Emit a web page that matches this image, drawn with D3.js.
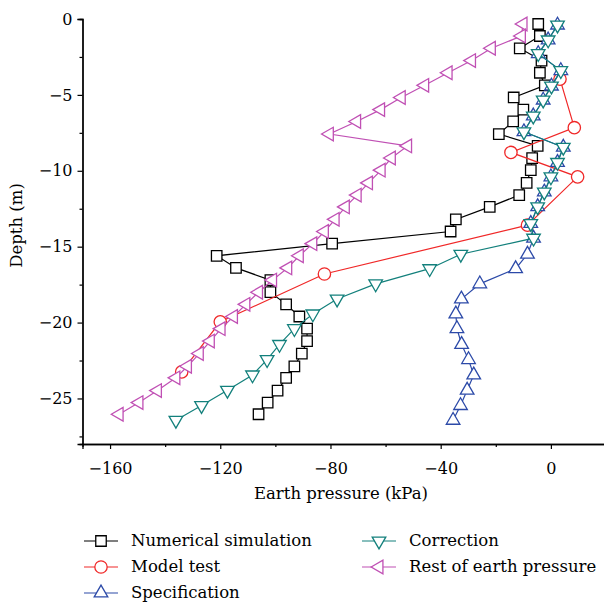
<!DOCTYPE html>
<html>
<head>
<meta charset="utf-8" />
<title>Earth pressure vs depth</title>
<script src="https://d3js.org/d3.v7.min.js"></script>
<style type="text/css">
body { margin: 0; background: #fff; }
</style>
</head>
<body>
<div id="svg"></div>
<script type="text/javascript">
var width = 604,
    height = 607;

// depths (m) used by numerical simulation and rest earth pressure
var depthA = [-0.33, -1.12, -1.93, -2.74, -3.54, -4.37, -5.17, -5.97, -6.75, -7.58, -8.36, -9.16, -9.96,
              -10.8, -11.6, -12.38, -13.2, -14.0, -14.8, -15.6, -16.4, -17.2, -18.0, -18.8, -19.6,
              -20.4, -21.22, -22.04, -22.88, -23.64, -24.48, -25.27, -26.04];
var simValues = [-4.6, -4.0, -11.3, -3.4, -4.0, -2.2, -13.5, -10.0, -13.7, -18.9, -4.8, -6.8, -7.3,
                 -8.8, -11.5, -22.2, -34.5, -36.4, -79.4, -121.3, -114.3, -101.8, -101.8, -96.1, -91.3,
                 -88.5, -88.5, -90.4, -93.1, -96.1, -99.2, -102.8, -106.1];
var restValues = [-10.1, -10.7, -21.6, -28.8, -37.3, -45.8, -54.3, -61.8, -70.5, -80.4, -52.0, -57.9, -61.6,
                  -66.2, -70.3, -74.6, -78.3, -82.2, -86.4, -91.3, -95.5, -101.0, -106.1, -110.7, -115.2,
                  -119.7, -123.6, -127.6, -131.9, -136.1, -142.8, -149.5, -156.7];

// depths (m) used by correction and specification
var depthB = [-0.4, -1.38, -2.28, -3.4, -4.42, -5.34, -6.39, -7.43, -8.45, -9.45, -10.4, -11.4, -12.37,
              -13.47, -14.44, -15.5, -16.45, -17.45, -18.45, -19.43, -20.4, -21.44, -22.44, -23.45,
              -24.46, -25.47, -26.44];
var corrValues = [2.4, -1.0, -4.6, 3.6, 0.2, -2.8, -6.4, -9.8, 4.5, 2.4, 0.0, -2.4, -4.8,
                  -7.3, -6.3, -32.7, -44.0, -63.6, -77.6, -86.4, -93.1, -98.5, -103.0, -108.3,
                  -117.4, -126.8, -136.1];
var specValues = [2.4, -1.0, -4.6, 3.6, 0.2, -2.8, -6.4, -9.8, 4.5, 2.4, 0.0, -2.4, -4.8,
                  -7.3, -6.3, -8.5, -12.8, -25.8, -32.5, -34.5, -34.1, -32.4, -29.9, -28.0,
                  -30.4, -32.8, -35.5];

// model test
var modelDepth = [-3.96, -7.16, -8.79, -10.4, -13.58, -16.8, -19.95, -23.25];
var modelValues = [3.3, 8.5, -14.5, 9.7, -8.5, -82.2, -120.0, -134.0];

var xTicks = [-160, -120, -80, -40, 0];
var xMinor = [-140, -100, -60, -20];
var yTicks = [0, -5, -10, -15, -20, -25];
var yMinor = [-2.5, -7.5, -12.5, -17.5, -22.5, -27.5];

var seriesNames = ["Numerical simulation", "Model test", "Specification", "Correction", "Rest of earth pressure"];

var font = "DejaVu Serif";

var svg = d3.select("#svg")
    .append("svg")
    .attr("width", width)
    .attr("height", height);

var xScale = d3.scaleLinear().domain([-170, 20]).range([82.5, 606]);
var yScale = d3.scaleLinear().domain([-28, 0]).range([444, 19]);

var fmt = d => d < 0 ? "\u2212" + Math.abs(d) : d;
var xAxis = d3.axisBottom(xScale).tickValues(xTicks).tickSize(5).tickPadding(14).tickFormat(fmt);
var xAxisMinor = d3.axisBottom(xScale).tickValues(xMinor).tickSize(3).tickFormat("");
var yAxis = d3.axisLeft(yScale).tickValues(yTicks).tickSize(5).tickPadding(5).tickFormat(fmt);
var yAxisMinor = d3.axisLeft(yScale).tickValues(yMinor).tickSize(3).tickFormat("");

var gX = svg.append("g").attr("transform", "translate(0," + yScale(-28) + ")").call(xAxis);
svg.append("g").attr("transform", "translate(0," + yScale(-28) + ")").call(xAxisMinor);
var gY = svg.append("g").attr("transform", "translate(" + xScale(-170) + ",0)").call(yAxis);
svg.append("g").attr("transform", "translate(" + xScale(-170) + ",0)").call(yAxisMinor);

svg.selectAll("g").attr("font-family", null).attr("font-size", null);
svg.selectAll(".domain").attr("stroke", "#000").attr("stroke-width", 1.3);
svg.selectAll(".tick line").attr("stroke", "#000").attr("stroke-width", 1.2);
svg.selectAll(".tick text").attr("font-size", 16).attr("fill", "#000")
    .attr("font-family", font);

svg.append("text")
    .attr("x", 341).attr("y", 499)
    .attr("text-anchor", "middle")
    .attr("font-family", font)
    .attr("font-size", 16.5)
    .text("Earth pressure (kPa)");

svg.append("text")
    .attr("transform", "translate(22," + yScale(-13.6) + ") rotate(-90)")
    .attr("text-anchor", "middle")
    .attr("font-family", font)
    .attr("font-size", 16.5)
    .text("Depth (m)");

var series = [
  { name: seriesNames[0], x: simValues, y: depthA, color: "#000000", shape: d3.symbolSquare, size: 110, rot: 0 },
  { name: seriesNames[1], x: modelValues, y: modelDepth, color: "#f02828", shape: d3.symbolCircle, size: 120, rot: 0 },
  { name: seriesNames[2], x: specValues, y: depthB, color: "#2c4aa8", shape: d3.symbolTriangle, size: 80, rot: 0 },
  { name: seriesNames[3], x: corrValues, y: depthB, color: "#13807c", shape: d3.symbolTriangle, size: 80, rot: 180 },
  { name: seriesNames[4], x: restValues, y: depthA, color: "#c050b4", shape: d3.symbolTriangle, size: 80, rot: -90 }
];

var line = d3.line().x(d => xScale(d[0])).y(d => yScale(d[1]));

series.forEach(function(s) {
  var pts = s.x.map((v, i) => [v, s.y[i]]);
  var g = svg.append("g");
  g.append("path")
      .attr("d", line(pts))
      .attr("fill", "none")
      .attr("stroke", s.color)
      .attr("stroke-width", 1.2);
  g.selectAll("path.mk")
      .data(pts)
      .enter()
      .append("path")
      .attr("class", "mk")
      .attr("d", d3.symbol().type(s.shape).size(s.size))
      .attr("transform", d => "translate(" + xScale(d[0]) + "," + yScale(d[1]) + ") rotate(" + s.rot + ")")
      .attr("fill", "#fff")
      .attr("stroke", s.color)
      .attr("stroke-width", 1.3);
});

var legendPos = [
  { x: 84, y: 541 }, { x: 84, y: 567 }, { x: 84, y: 593 },
  { x: 362, y: 541 }, { x: 362, y: 567 }
];

series.forEach(function(s, i) {
  var p = legendPos[i];
  var g = svg.append("g").attr("transform", "translate(" + p.x + "," + p.y + ")");
  g.append("line").attr("x1", 0).attr("x2", 34).attr("y1", 0).attr("y2", 0)
      .attr("stroke", s.color).attr("stroke-width", 1.2);
  g.append("path")
      .attr("d", d3.symbol().type(s.shape).size(s.size))
      .attr("transform", "translate(17,0) rotate(" + s.rot + ")")
      .attr("fill", "#fff")
      .attr("stroke", s.color)
      .attr("stroke-width", 1.3);
  g.append("text")
      .attr("x", 47).attr("y", 0).attr("dy", "0.32em")
      .attr("font-family", font)
      .attr("font-size", 16.5)
      .text(s.name);
});
</script>
</body>
</html>
